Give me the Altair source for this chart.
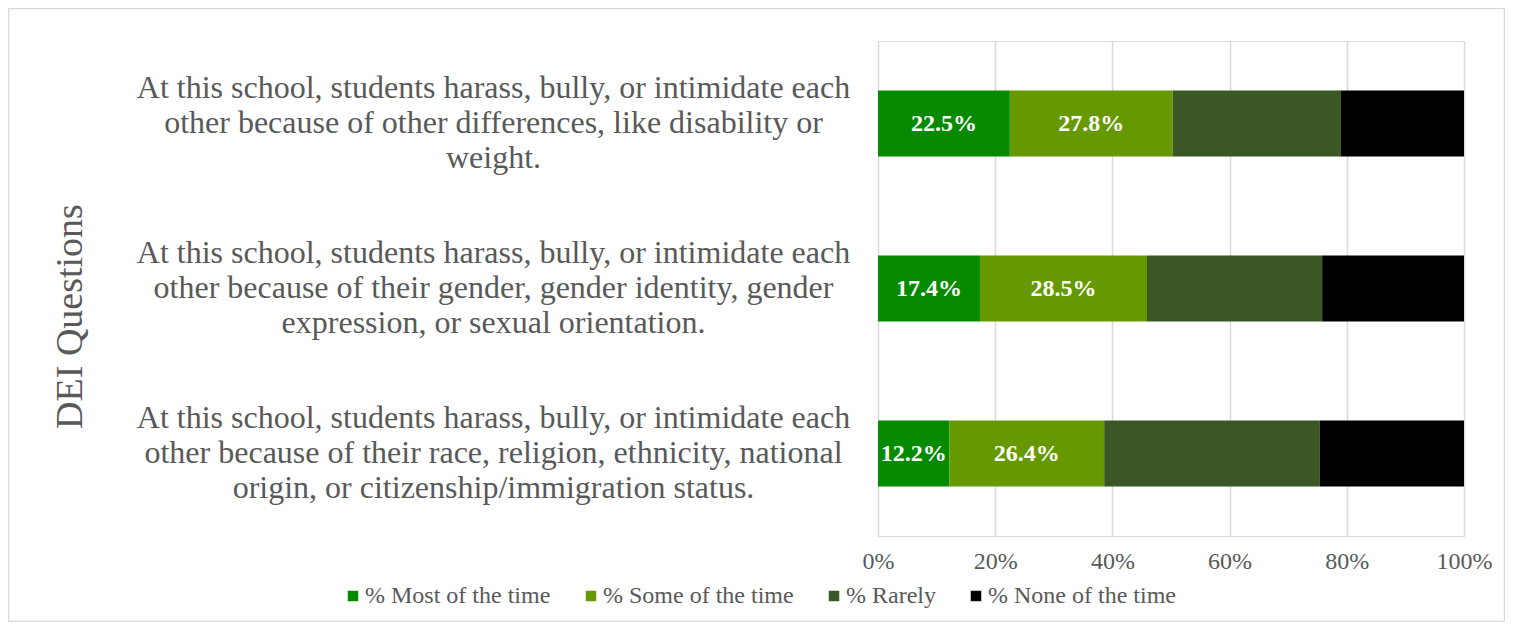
import altair as alt
import pandas as pd

questions = [
    "At this school, students harass, bully, or intimidate each\nother because of other differences, like disability or\nweight.",
    "At this school, students harass, bully, or intimidate each\nother because of their gender, gender identity, gender\nexpression, or sexual orientation.",
    "At this school, students harass, bully, or intimidate each\nother because of their race, religion, ethnicity, national\norigin, or citizenship/immigration status.",
]
responses = ["% Most of the time", "% Some of the time", "% Rarely", "% None of the time"]
colors = ["#068A00", "#669900", "#3A5724", "#000000"]

most = [22.5, 17.4, 12.2]
some = [27.8, 28.5, 26.4]
rarely = [28.7, 29.9, 36.8]
none_ = [21.0, 24.2, 24.6]
labelled = ["% Most of the time", "% Some of the time"]
x_ticks = [0, 20, 40, 60, 80, 100]

rows = []
for qi, q in enumerate(questions):
    for ri, (r, vals) in enumerate(zip(responses, [most, some, rarely, none_])):
        rows.append({"question": q, "response": r, "order": ri, "value": vals[qi],
                     "show": r in labelled})
df = pd.DataFrame(rows)

FONT = "Liberation Serif"
GREY = "#595959"

base = alt.Chart(df).transform_stack(
    stack="value", groupby=["question"], as_=["x0", "x1"],
    sort=[alt.SortField("order", order="ascending")],
)

y_enc = alt.Y(
    "question:N", sort=questions,
    scale=alt.Scale(paddingInner=0.6, paddingOuter=0.3),
    axis=alt.Axis(
        title="DEI Questions", titleFont=FONT, titleFontSize=38, titleFontWeight="normal",
        titleColor=GREY, titleAngle=270, titleX=-808, titleY=275,
        titleAlign="center", titleBaseline="middle",
        labelExpr="split(datum.label, '\\n')", labelFont=FONT, labelFontSize=32,
        labelColor=GREY, labelAlign="center", labelBaseline="middle",
        labelPadding=385, labelLimit=1000, labelLineHeight=35, labelOffset=-36,
        ticks=False, domain=False, grid=False,
    ),
)

bars = base.mark_bar().encode(
    x=alt.X("x0:Q", scale=alt.Scale(domain=[0, 100]),
            axis=alt.Axis(values=x_ticks, labelExpr="datum.value + '%'", title=None,
                          labelFont=FONT, labelFontSize=24, labelColor=GREY,
                          labelPadding=13, labelFlush=False, ticks=False, domain=False,
                          grid=True, gridColor="#d9d9d9", gridWidth=1.5)),
    x2="x1:Q",
    y=y_enc,
    color=alt.Color("response:N", sort=responses,
                    scale=alt.Scale(domain=responses, range=colors),
                    legend=alt.Legend(title=None, orient="none", direction="horizontal",
                                      legendX=-537, legendY=543,
                                      labelFont=FONT, labelFontSize=24, labelColor=GREY,
                                      labelLimit=400,
                                      symbolType="square", symbolSize=110,
                                      symbolStrokeWidth=0, labelOffset=0,
                                      columnPadding=28)),
)

texts = base.transform_filter("datum.show").transform_calculate(
    mid="(datum.x0 + datum.x1) / 2",
    lbl="format(datum.value, '.1f') + '%'",
).mark_text(font=FONT, fontSize=24, fontWeight="bold", color="white",
            baseline="middle", align="center").encode(
    x="mid:Q",
    y=alt.Y("question:N", sort=questions),
    text="lbl:N",
)

frame = alt.Chart(alt.Data(values=[{"a": 1}])).mark_rect(
    fill="white", fillOpacity=0, stroke="#d9d9d9", strokeWidth=1.5
).encode(
    x=alt.value(-869.5), x2=alt.value(626.5), y=alt.value(-32.5), y2=alt.value(580.5)
)

chart = alt.layer(frame, bars, texts).properties(
    width=586, height=495,
    autosize=alt.AutoSizeParams(type="none"),
    padding={"left": 870, "top": 33, "right": 41, "bottom": 86},
).configure_view(stroke=None).configure(background="white")

chart.save("out.html", embed_options={"renderer": "svg", "actions": False})
